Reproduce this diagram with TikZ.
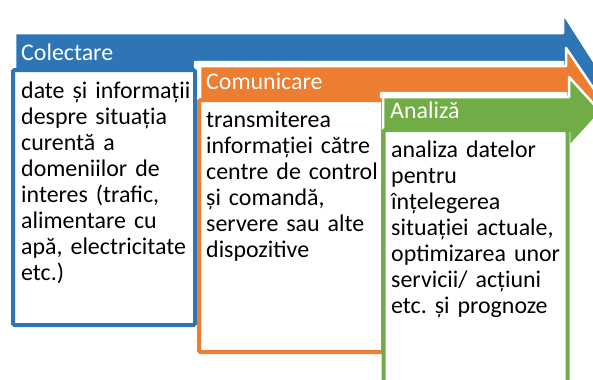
\documentclass[tikz,border=0pt]{standalone}
\usepackage{fontspec}
\setmainfont{Carlito}
\usepackage{xcolor}
\frenchspacing

\definecolor{colblue}{RGB}{46,117,182}
\definecolor{colorange}{RGB}{237,125,49}
\definecolor{colgreen}{RGB}{112,173,71}

\tikzset{
    arrowshape/.style={fill=#1, draw=white, line width=2.5bp, line join=round},
    framebox/.style={draw=#1, fill=white, line width=4bp, rounded corners=1.5bp},
    headtext/.style={anchor=base west, inner sep=0pt, text=white, font=\fontsize{24}{26}\selectfont},
    bodytext/.style={anchor=base west, inner sep=0pt, align=left, text width=#1, font=\fontsize{24}{26.2}\selectfont}
}

\begin{document}
\begin{tikzpicture}[x=1bp, y=-1bp]
        \useasboundingbox (0,0) rectangle (593,379);
        \clip (0,0) rectangle (593,379);

        % Colectare
        \draw[arrowshape=colblue] (15,33) -- (563,33) -- (563,13) -- (600,71) -- (600,95)
            -- (563,75) -- (563,62) -- (195,62) -- (195,72) -- (15,72) -- cycle;
        \draw[framebox=colblue] (13,70) rectangle (195,325);
        \node[headtext] (colhead) at (21,60) {Colectare};
        \node[bodytext=172bp] (coltext) at (21,98) {date și informații\\despre situația\\curentă a\\domeniilor de\\interes (trafic,\\alimentare cu\\apă, electricitate\\etc.)};

        % Comunicare
        \draw[arrowshape=colorange] (200,66) -- (566,66) -- (566,48) -- (600,98) -- (600,115)
            -- (566,100) -- (566,93) -- (381,93) -- (381,102) -- (200,102) -- cycle;
        \draw[framebox=colorange] (199,100) rectangle (383,352);
        \node[headtext] (comhead) at (206,89) {Comunicare};
        \node[bodytext=172bp] (comtext) at (206,127) {transmiterea\\informației către\\centre de control\\și comandă,\\servere sau alte\\dispozitive};

        % Analiza
        \draw[arrowshape=colgreen] (383,97) -- (569,97) -- (569,77) -- (601,112) -- (569,147)
            -- (569,133) -- (383,133) -- cycle;
        \draw[framebox=colgreen] (383.5,130) rectangle (567.5,400);
        \node[headtext] (anahead) at (390,118) {Analiză};
        \node[bodytext=172bp] (anatext) at (391,157) {analiza datelor\\pentru\\înțelegerea\\situației actuale,\\optimizarea unor\\servicii/ acțiuni\\etc. și prognoze};
\end{tikzpicture}
\end{document}
